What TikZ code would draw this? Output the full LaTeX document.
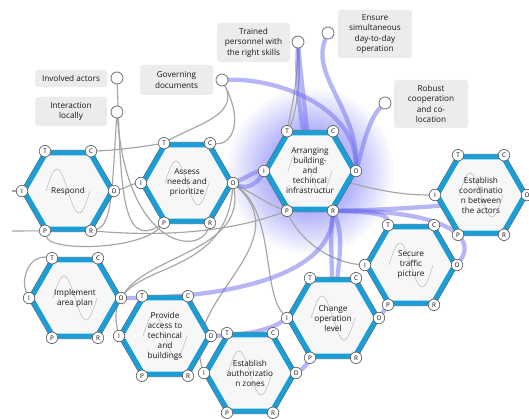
\documentclass[tikz,border=0pt]{standalone}
\usepackage{fontspec}
\setmainfont{Open Sans}
\usetikzlibrary{calc,fadings}
\pgfdeclarelayer{bglayer}
\pgfdeclarelayer{glowlayer}
\pgfdeclarelayer{linelayer}
\pgfsetlayers{bglayer,glowlayer,linelayer,main}

\definecolor{hexblue}{RGB}{27,158,214}
\definecolor{hexfill}{RGB}{247,247,247}
\definecolor{hexedge}{RGB}{85,85,85}
\definecolor{lav}{RGB}{110,110,238}
\definecolor{glowc}{RGB}{95,95,245}
\definecolor{lgray}{RGB}{165,165,165}
\definecolor{boxgray}{RGB}{236,236,236}

\tikzfading[name=glowfade, inner color=transparent!5, outer color=transparent!100]

\tikzset{
  port/.style={circle, draw=hexedge, line width=0.6pt, fill=white, inner sep=0pt,
    minimum size=11.5pt, font=\fontsize{6.3}{7}\selectfont},
  endport/.style={circle, draw=gray, line width=0.9pt, fill=white, inner sep=0pt, minimum size=12pt},
  hextext/.style={align=center, font=\fontsize{8.2}{10}\selectfont, text=black!90},
  labelbox/.style={fill=boxgray, rounded corners=3pt, align=center,
    font=\fontsize{8.2}{10.5}\selectfont, text=black!90, inner sep=0pt},
  gline/.style={draw=lgray, line width=1.15pt},
  bline/.style={draw=lav, line width=4.3pt, opacity=0.5, line cap=round},
}

\newcommand{\hexa}[4]{%
  \begin{scope}[shift={(#2,#3)}]
    \coordinate (#1) at (0,0);
    \draw[hexedge, line width=0.8pt, fill=hexfill] (-23.5,-40.7) -- (23.5,-40.7) -- (47,0) -- (23.5,40.7) -- (-23.5,40.7) -- (-47,0) -- cycle;
    \draw[hexblue, line width=5pt, line join=miter] (-22,-38.1) -- (22,-38.1) -- (44,0) -- (22,38.1) -- (-22,38.1) -- (-44,0) -- cycle;
    \draw[gray!55, line width=0.5pt] (-22,0) sin (-11,-22) cos (0,0) sin (11,22) cos (22,0);
    \node[hextext] (#1-txt) at (0,0) {#4};
    \node[port] (#1-T) at (-23,-39.8) {T};
    \node[port] (#1-C) at (23,-39.8) {C};
    \node[port] (#1-O) at (46,0) {O};
    \node[port] (#1-R) at (23,39.8) {R};
    \node[port] (#1-P) at (-23,39.8) {P};
    \node[port] (#1-I) at (-46,0) {I};
  \end{scope}}

\begin{document}
\begin{tikzpicture}[x=1pt,y=-1pt]
\useasboundingbox (0,0) rectangle (529,419);
\clip (0,0) rectangle (529,419);
\begin{pgfonlayer}{bglayer}
  \fill[white] (0,0) rectangle (529,419);
\end{pgfonlayer}

% label boxes
\node[labelbox, minimum width=72pt, minimum height=17pt] (invol) at (71,78.5) {Involved actors};
\node[labelbox, minimum width=72pt, minimum height=29pt] (inter) at (71,111.5) {Interaction\\locally};
\node[labelbox, minimum width=73pt, minimum height=30pt] (gov) at (176.5,80) {Governing\\documents};
\node[labelbox, minimum width=73pt, minimum height=39pt] (trained) at (253.5,42.5) {Trained\\personnel with\\the right skills};
\node[labelbox, minimum width=74pt, minimum height=48pt] (ensure) at (375,34) {Ensure\\simultaneous\\day-to-day\\operation};
\node[labelbox, minimum width=74pt, minimum height=48pt] (robust) at (431,104) {Robust\\cooperation\\and co-\\location};

\node[endport] (invol-c) at (117,78) {};
\node[endport] (inter-c) at (117,112) {};
\node[endport] (gov-c) at (222,80) {};
\node[endport] (trained-c) at (298,42) {};
\node[endport] (ensure-c) at (328,33) {};
\node[endport] (robust-c) at (385,103) {};

% hexagons
\hexa{resp}{68}{191}{Respond}
\hexa{assess}{187}{183}{Assess\\needs and\\prioritize}
\hexa{arr}{310}{171}{Arranging\\building-\\and\\techincal\\infrastructur}
\hexa{coord}{481}{195}{Establish\\coordinatio\\n between\\the actors}
\hexa{secure}{411}{265}{Secure\\traffic\\picture}
\hexa{change}{333}{318}{Change\\operation\\level}
\hexa{impl}{75}{298}{Implement\\area plan}
\hexa{provide}{165}{336}{Provide\\access to\\techincal\\and\\buildings}
\hexa{auth}{250}{373}{Establish\\authorizatio\\n zones}

\coordinate (lft1) at (12,231);
\coordinate (lft2) at (12,191);

\begin{pgfonlayer}{glowlayer}
  \fill[glowc, path fading=glowfade] (arr) circle (84pt);
\end{pgfonlayer}

\begin{pgfonlayer}{linelayer}
  % gray connectors
  \draw[gline] (invol-c) .. controls (121,180) and (120,250) .. (assess-P);
  \draw[gline] (inter-c) .. controls (128,250) and (200,255) .. (assess-R);
  \draw[gline] (inter-c) .. controls (112,190) and (112,225) .. (resp-R);
  \draw[gline] (gov-c) .. controls (240,115) and (195,125) .. (assess-T);
  \draw[gline] (gov-c) .. controls (245,125) and (230,145) .. (assess-C);
  \draw[gline] (trained-c) .. controls (297,90) and (291,110) .. (arr-T);
  \draw[gline] (trained-c) .. controls (301,80) and (296,115) .. (arr-T);
  \draw[gline] (resp-O) .. controls (125,188) and (132,184) .. (assess-I);
  \draw[gline] (resp-C) .. controls (120,150) and (140,147) .. (assess-T);
  \draw[gline] (lft1) -- (resp-P);
  \draw[gline] (lft2) -- (resp-I);
  \draw[gline] (resp-R) .. controls (180,238) and (240,228) .. (arr-P);
  \draw[gline] (resp-P) .. controls (50,252) and (140,250) .. (assess-P);
  \draw[gline] (arr-P) .. controls (300,240) and (330,262) .. (secure-I);
  \draw[gline] (arr) .. controls (370,190) and (400,195) .. (coord-I);
  \draw[gline] (assess-O) .. controls (275,215) and (262,290) .. (change-I);
  \draw[gline] (assess-O) .. controls (300,245) and (180,300) .. (auth-I);
  \draw[gline] (assess-O) .. controls (245,250) and (150,255) .. (impl-O);
  \draw[gline] (assess-O) .. controls (225,290) and (100,255) .. (provide-I);
  \draw[gline] (impl-T) .. controls (30,255) and (20,278) .. (impl-I);
  \draw[gline] (assess-O) .. controls (255,195) and (270,205) .. (arr-P);
  % blue connectors
  \draw[bline] (gov-c) .. controls (275,78) and (355,105) .. (arr-O);
  \draw[bline] (trained-c) .. controls (302,90) and (306,110) .. (arr);
  \draw[bline] (trained-c) .. controls (296,90) and (300,115) .. (arr);
  \draw[bline] (ensure-c) .. controls (310,75) and (358,110) .. (arr-O);
  \draw[bline] (robust-c) .. controls (368,120) and (362,150) .. (arr-O);
  \draw[bline] (arr-R) .. controls (390,210) and (470,205) .. (coord-O);
  \draw[bline] (arr-R) .. controls (440,210) and (478,235) .. (secure-O);
  \draw[bline] (arr-R) .. controls (370,212) and (386,214) .. (secure-T);
  \draw[bline] (arr-R) .. controls (330,240) and (332,260) .. (change);
  \draw[bline] (arr-R) .. controls (345,240) and (338,262) .. (change);
  \draw[bline] (arr-R) .. controls (330,275) and (230,298) .. (impl-O);
  \draw[bline] (provide-O) .. controls (245,335) and (270,330) .. (change-I);
  \draw[bline] (auth-O) .. controls (304,368) and (308,362) .. (change-P);
  \draw[bline] (secure-P) -- (change-O);
  \draw[bline] (assess-O) .. controls (245,178) and (255,172) .. (arr-I);
  \draw[bline] (assess-O) .. controls (248,190) and (258,182) .. (arr-I);
\end{pgfonlayer}
\end{tikzpicture}
\end{document}
